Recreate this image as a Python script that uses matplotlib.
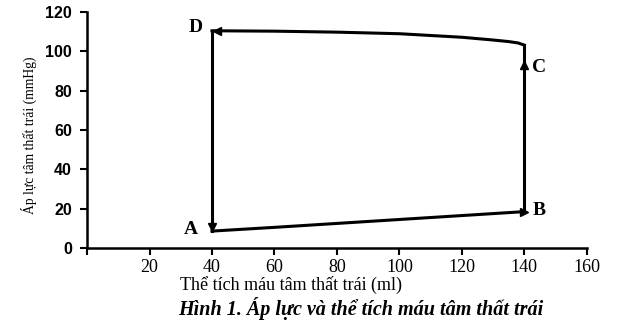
import matplotlib.pyplot as plt
import numpy as np

# pressure-volume loop of the left ventricle
bottom_vol = [40, 60, 80, 100, 120, 140]
bottom_pres = [8.6, 10.5, 12.5, 14.5, 16.5, 18.5]
right_vol = [140, 140]
right_pres = [18.5, 103.2]
top_vol = [140, 138, 135, 130, 120, 100, 80, 60, 40]
top_pres = [103.2, 104.3, 105.0, 105.8, 107.2, 109.0, 109.8, 110.3, 110.5]
left_vol = [40, 40]
left_pres = [110.5, 8.6]

points = {'A': (40, 8.6), 'B': (140, 18.5), 'C': (140, 93), 'D': (40, 110.5)}
x_ticks = [0, 20, 40, 60, 80, 100, 120, 140, 160]
x_tick_labels = ['', '20', '40', '60', '80', '100', '120', '140', '160']
y_ticks = [0, 20, 40, 60, 80, 100, 120]

fig = plt.figure(figsize=(6.19, 3.27), dpi=100)
ax = fig.add_axes([0.1406, 0.2416, 0.8074, 0.7214])

lw = 2.2
ax.plot(bottom_vol, bottom_pres, 'k-', lw=lw)
ax.plot(right_vol, right_pres, 'k-', lw=lw)
ax.plot(top_vol, top_pres, 'k-', lw=lw)
ax.plot(left_vol, left_pres, 'k-', lw=lw)

# arrow heads
ax.plot(*points['B'], marker='>', color='k', ms=6)
ax.plot(*points['C'], marker='^', color='k', ms=6)
ax.plot(41.5, 110.5, marker='<', color='k', ms=6)
ax.plot(40, 10.5, marker='v', color='k', ms=6)

lab_font = dict(family='Liberation Serif', fontweight='bold', fontsize=14)
ax.text(35.5, 9.5, 'A', ha='right', va='center', **lab_font)
ax.text(142.5, 19.3, 'B', ha='left', va='center', **lab_font)
ax.text(142.5, 92, 'C', ha='left', va='center', **lab_font)
ax.text(37, 112, 'D', ha='right', va='center', **lab_font)

ax.set_xlim(0, 160)
ax.set_ylim(0, 120)
ax.spines['top'].set_visible(False)
ax.spines['right'].set_visible(False)
ax.spines['left'].set_linewidth(1.8)
ax.spines['bottom'].set_linewidth(1.8)
ax.spines['left'].set_bounds(0, 120)
ax.spines['bottom'].set_bounds(0, 160)

ax.set_xticks(x_ticks)
ax.set_xticklabels(x_tick_labels, family='Liberation Serif', fontsize=13)
ax.set_yticks(y_ticks)
ax.set_yticklabels([str(v) for v in y_ticks], family='Liberation Sans',
                   fontweight='bold', fontsize=11.5)
ax.tick_params(axis='both', width=1.5, length=5)
ax.tick_params(axis='x', pad=3)
ax.tick_params(axis='y', pad=6)

ax.set_ylabel('Áp lực tâm thất trái (mmHg)', family='Liberation Serif',
              fontsize=9.8, labelpad=5)
ax.yaxis.set_label_coords(-0.1, 0.48)
ax.set_xlabel('Thể tích máu tâm thất trái (ml)', family='Liberation Serif',
              fontsize=13, labelpad=0)
ax.xaxis.set_label_coords((291 - 87) / 500, -0.12)

fig.text(361 / 619, 1 - 308 / 327, 'Hình 1. Áp lực và thể tích máu tâm thất trái',
         ha='center', va='center', family='Liberation Serif',
         fontweight='bold', style='italic', fontsize=14.5)

fig.savefig('out.png', dpi=100)
